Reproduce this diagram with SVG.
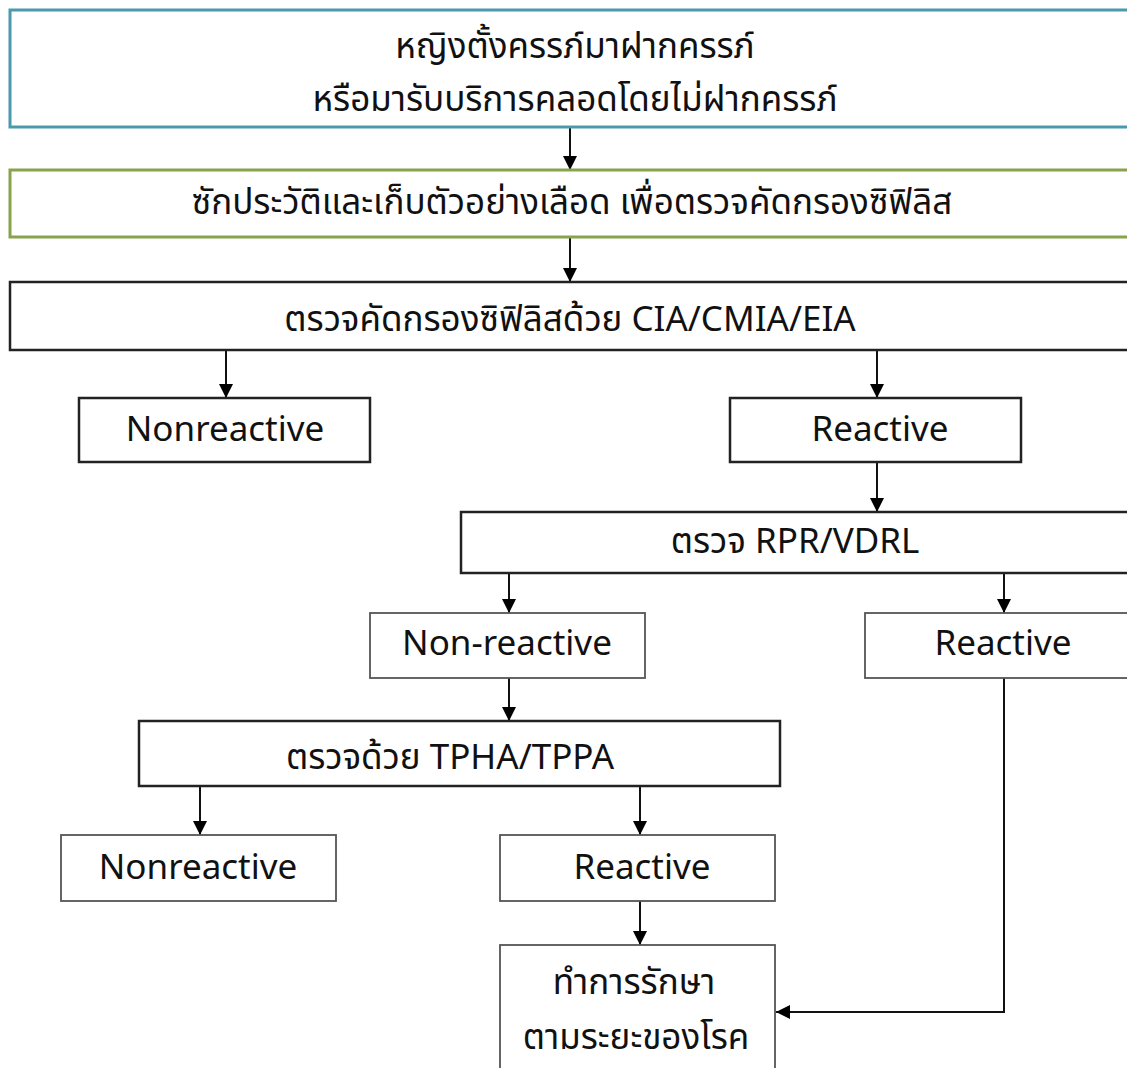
<svg xmlns="http://www.w3.org/2000/svg" width="1127" height="1068" viewBox="0 0 1127 1068">
<defs>
<marker id="ah" markerWidth="14" markerHeight="20" refX="14" refY="10" orient="auto" markerUnits="userSpaceOnUse">
<path d="M0,3 L14,10 L0,17 Z" fill="#000"/>
</marker>
<style>
.box{fill:#fff;stroke:#222;stroke-width:2.5}
.thin{fill:#fff;stroke:#555;stroke-width:1.8}
.t{font-family:"Noto Sans Thai","Open Sans","Noto Sans","DejaVu Sans",sans-serif;font-size:35px;fill:#111;text-anchor:middle;dominant-baseline:central}
.c{stroke:#111;stroke-width:2;fill:none;marker-end:url(#ah)}
</style>
</defs>
<rect width="1127" height="1068" fill="#fff"/>
<g id="connectors">
<line class="c" x1="570" y1="127" x2="570" y2="170"/>
<line class="c" x1="570" y1="237" x2="570" y2="282"/>
<line class="c" x1="226" y1="350" x2="226" y2="398"/>
<line class="c" x1="877" y1="350" x2="877" y2="398"/>
<line class="c" x1="877" y1="462" x2="877" y2="512"/>
<line class="c" x1="509" y1="573" x2="509" y2="613"/>
<line class="c" x1="1004" y1="573" x2="1004" y2="613"/>
<line class="c" x1="509" y1="678" x2="509" y2="721"/>
<line class="c" x1="200" y1="786" x2="200" y2="835"/>
<line class="c" x1="640" y1="786" x2="640" y2="835"/>
<line class="c" x1="640" y1="901" x2="640" y2="945"/>
<polyline class="c" points="1004,678 1004,1012 776,1012"/>
</g>
<g id="n1"><rect x="10" y="10" width="1130" height="117" fill="#fff" stroke="#4b9aab" stroke-width="3"/>
<text class="t" x="575" y="47">หญิงตั้งครรภ์มาฝากครรภ์</text>
<text class="t" x="575" y="100">หรือมารับบริการคลอดโดยไม่ฝากครรภ์</text></g>
<g id="n2"><rect x="10" y="170" width="1130" height="67" fill="#fff" stroke="#8aa14e" stroke-width="3"/>
<text class="t" x="572" y="203">ซักประวัติและเก็บตัวอย่างเลือด เพื่อตรวจคัดกรองซิฟิลิส</text></g>
<g id="n3"><rect class="box" x="10" y="282" width="1130" height="68"/>
<text class="t" x="570" y="320">ตรวจคัดกรองซิฟิลิสด้วย CIA/CMIA/EIA</text></g>
<g id="n4"><rect class="box" x="79" y="398" width="291" height="64"/>
<text class="t" x="225" y="430">Nonreactive</text></g>
<g id="n5"><rect class="box" x="730" y="398" width="291" height="64"/>
<text class="t" x="880" y="430">Reactive</text></g>
<g id="n6"><rect class="box" x="461" y="512" width="680" height="61"/>
<text class="t" x="795" y="542">ตรวจ RPR/VDRL</text></g>
<g id="n7"><rect class="thin" x="370" y="613" width="275" height="65"/>
<text class="t" x="507" y="644">Non-reactive</text></g>
<g id="n8"><rect class="thin" x="865" y="613" width="280" height="65"/>
<text class="t" x="1003" y="644">Reactive</text></g>
<g id="n9"><rect class="box" x="139" y="721" width="641" height="65"/>
<text class="t" x="450" y="758">ตรวจด้วย TPHA/TPPA</text></g>
<g id="n10"><rect class="thin" x="61" y="835" width="275" height="66"/>
<text class="t" x="198" y="868">Nonreactive</text></g>
<g id="n11"><rect class="thin" x="500" y="835" width="275" height="66"/>
<text class="t" x="642" y="868">Reactive</text></g>
<g id="n12"><rect class="thin" x="500" y="945" width="275" height="130"/>
<text class="t" x="634" y="983">ทำการรักษา</text>
<text class="t" x="636" y="1038">ตามระยะของโรค</text></g>
</svg>
